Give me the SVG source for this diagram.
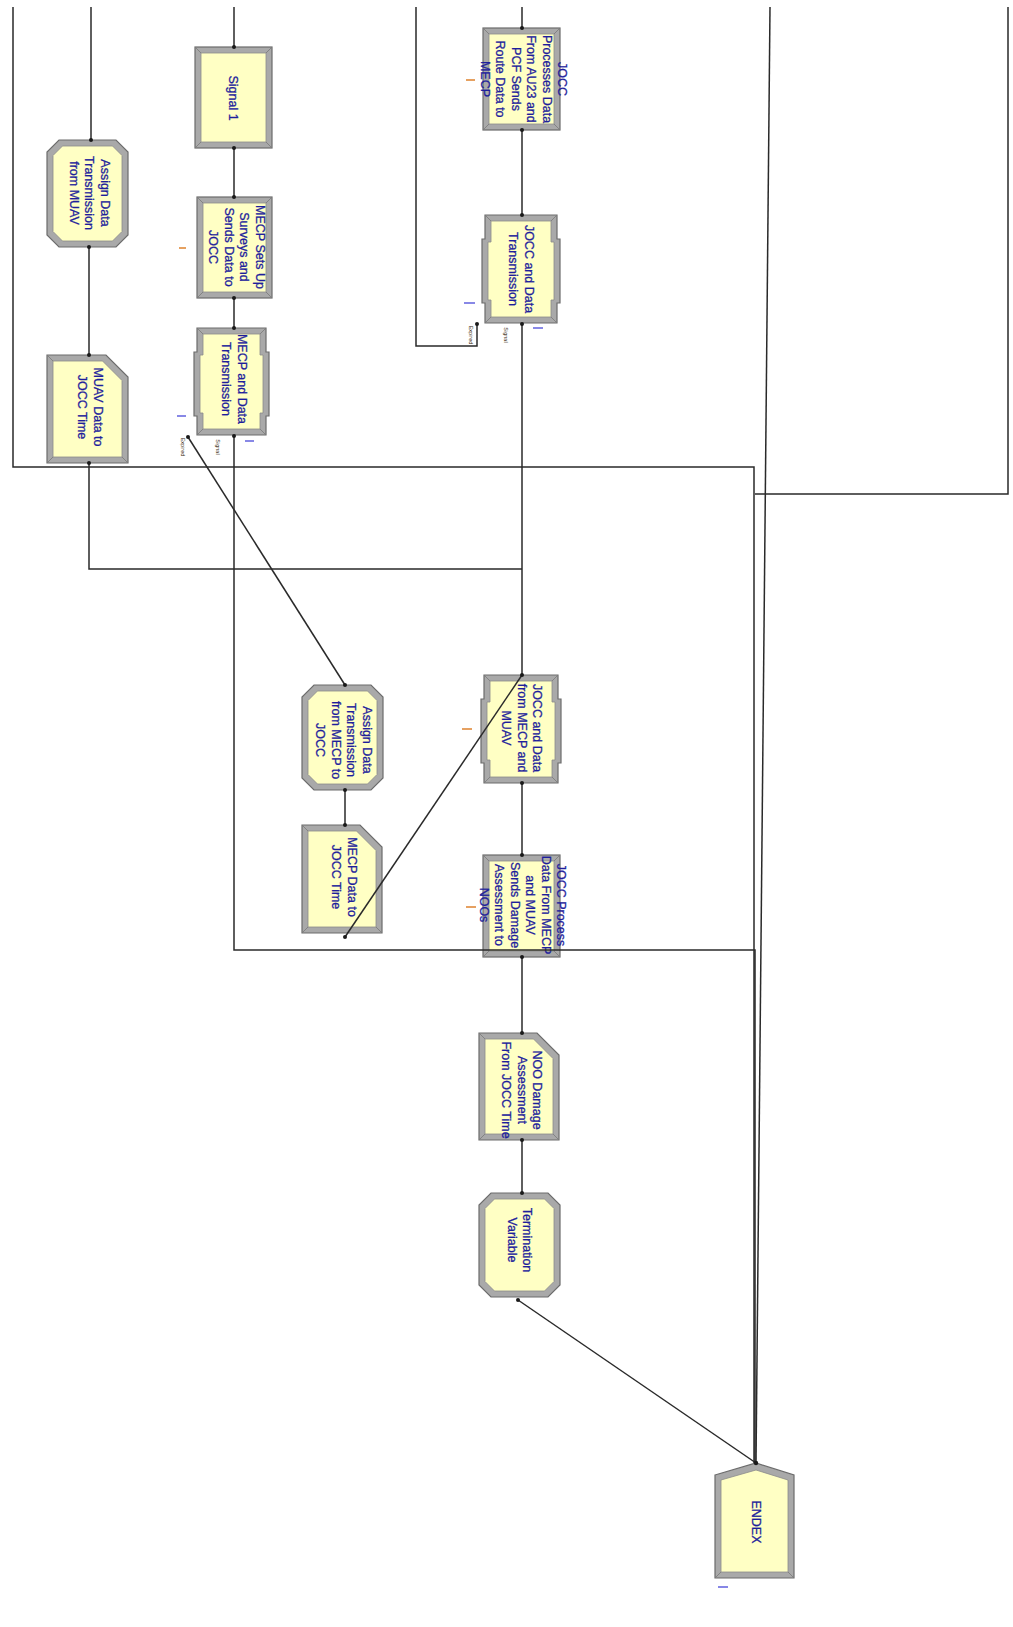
<svg xmlns="http://www.w3.org/2000/svg" width="1013" height="1627" viewBox="0 0 1013 1627">
  <style>
    .rim { fill: #a9a9a9; stroke: #6c6c6c; stroke-width: 1.2; }
    .face { fill: #ffffc4; stroke: #8c8c8c; stroke-width: 0.8; }
    .bev { stroke: #7a7a7a; stroke-width: 0.8; fill: none; }
    .lbl { font-family: "Liberation Sans", Arial, sans-serif; font-size: 12.5px; fill: #1e1e9c; stroke: #1e1e9c; stroke-width: 0.3; text-anchor: middle; }
    .port { font-family: "Liberation Sans", Arial, sans-serif; font-size: 5.5px; fill: #3a2a10; text-anchor: middle; }
    .wire { fill: none; stroke: #2a2a2a; stroke-width: 1.5; }
    .dot { fill: #1a1a1a; }
    .mk-o { stroke: #e08a3a; stroke-width: 1.6; }
    .mk-b { stroke: #6a6ae0; stroke-width: 1.6; }
  </style>

  <rect width="1013" height="1627" fill="#ffffff"/>

  <!-- Assign: Assign Data Transmission from MUAV -->
  <g id="assign-muav">
    <polygon class="rim" points="59,140 116,140 128,152 128,235 116,247 59,247 47,235 47,152"/>
    <polygon class="face" points="62.5,146 112.5,146 122,155.5 122,231.5 112.5,241 62.5,241 53,231.5 53,155.5"/>
    <text class="lbl" transform="translate(89.5 193) rotate(90)"><tspan x="0" y="-11">Assign Data</tspan><tspan x="0" y="4.5">Transmission</tspan><tspan x="0" y="20">from MUAV</tspan></text>
  </g>

  <!-- Record: MUAV Data to JOCC Time -->
  <g id="record-muav">
    <polygon class="rim" points="47,355 106,355 128,377 128,463 47,463"/>
    <polygon class="face" points="53,361 102.5,361 122,380.5 122,457 53,457"/>
    <path class="bev" d="M47,355 L53,361 M128,463 L122,457 M47,463 L53,457"/>
    <text class="lbl" transform="translate(90.5 407) rotate(90)"><tspan x="0" y="-3.25">MUAV Data to</tspan><tspan x="0" y="12.25">JOCC Time</tspan></text>
  </g>

  <!-- Signal: Signal 1 -->
  <g id="signal-1">
    <rect class="rim" x="195" y="47" width="77" height="101"/>
    <rect class="face" x="201" y="53" width="65" height="89"/>
    <path class="bev" d="M195,47 L201,53 M272,47 L266,53 M272,148 L266,142 M195,148 L201,142"/>
    <text class="lbl" transform="translate(233 98) rotate(90)"><tspan x="0" y="4.5">Signal 1</tspan></text>
  </g>

  <!-- Process: MECP Sets Up Surveys and Sends Data to JOCC -->
  <g id="mecp-surveys">
    <rect class="rim" x="197" y="197" width="75" height="101"/>
    <rect class="face" x="203" y="203" width="63" height="89"/>
    <path class="bev" d="M197,197 L203,203 M272,197 L266,203 M272,298 L266,292 M197,298 L203,292"/>
    <text class="lbl" transform="translate(237 247) rotate(90)"><tspan x="0" y="-18.75">MECP Sets Up</tspan><tspan x="0" y="-3.25">Surveys and</tspan><tspan x="0" y="12.25">Sends Data to</tspan><tspan x="0" y="27.75">JOCC</tspan></text>
    <line class="mk-o" x1="179" y1="248" x2="186" y2="248"/>
  </g>

  <!-- Hold: MECP and Data Transmission -->
  <g id="mecp-transmission">
    <path class="rim" d="M197,328 H266 V352 H269 V416 H266 V435 H197 V416 H194 V352 H197 Z"/>
    <path class="face" d="M203,334 H260 V355 H263 V413 H260 V429 H203 V413 H200 V355 H203 Z"/>
    <path class="bev" d="M197,328 L203,334 M266,328 L260,334 M266,435 L260,429 M197,435 L203,429"/>
    <text class="lbl" transform="translate(234.5 379) rotate(90)"><tspan x="0" y="-3.25">MECP and Data</tspan><tspan x="0" y="12.25">Transmission</tspan></text>
    <line class="mk-b" x1="177" y1="416" x2="186" y2="416"/>
    <line class="mk-b" x1="245" y1="441" x2="254" y2="441"/>
    <text class="port" transform="translate(183 447) rotate(90)"><tspan x="0" y="2">Expired</tspan></text>
    <text class="port" transform="translate(218 447) rotate(90)"><tspan x="0" y="2">Signal</tspan></text>
  </g>

  <!-- Process: JOCC Processes Data From AU23 and PCF Sends Route Data to MECP -->
  <g id="jocc-route">
    <rect class="rim" x="483" y="28" width="77" height="102"/>
    <rect class="face" x="489" y="34" width="65" height="90"/>
    <path class="bev" d="M483,28 L489,34 M560,28 L554,34 M560,130 L554,124 M483,130 L489,124"/>
    <text class="lbl" transform="translate(524 79) rotate(90)"><tspan x="0" y="-34.25">JOCC</tspan><tspan x="0" y="-18.75">Processes Data</tspan><tspan x="0" y="-3.25">From AU23 and</tspan><tspan x="0" y="12.25">PCF Sends</tspan><tspan x="0" y="27.75">Route Data to</tspan><tspan x="0" y="43.25">MECP</tspan></text>
    <line class="mk-o" x1="466" y1="80" x2="475" y2="80"/>
  </g>

  <!-- Hold: JOCC and Data Transmission -->
  <g id="jocc-transmission">
    <path class="rim" d="M485,215 H557 V239 H560 V303 H557 V323 H485 V303 H482 V239 H485 Z"/>
    <path class="face" d="M491,221 H551 V242 H554 V300 H551 V317 H491 V300 H488 V242 H491 Z"/>
    <path class="bev" d="M485,215 L491,221 M557,215 L551,221 M557,323 L551,317 M485,323 L491,317"/>
    <text class="lbl" transform="translate(521.5 269) rotate(90)"><tspan x="0" y="-3.25">JOCC and Data</tspan><tspan x="0" y="12.25">Transmission</tspan></text>
    <line class="mk-b" x1="464" y1="303" x2="475" y2="303"/>
    <line class="mk-b" x1="533" y1="328" x2="543" y2="328"/>
    <text class="port" transform="translate(471 335) rotate(90)"><tspan x="0" y="2">Expired</tspan></text>
    <text class="port" transform="translate(506 335) rotate(90)"><tspan x="0" y="2">Signal</tspan></text>
  </g>

  <!-- Hold: JOCC and Data from MECP and MUAV -->
  <g id="jocc-mecp-muav">
    <path class="rim" d="M484,675 H558 V699 H561 V763 H558 V783 H484 V763 H481 V699 H484 Z"/>
    <path class="face" d="M490,681 H552 V702 H555 V760 H552 V777 H490 V760 H487 V702 H490 Z"/>
    <path class="bev" d="M484,675 L490,681 M558,675 L552,681 M558,783 L552,777 M484,783 L490,777"/>
    <text class="lbl" transform="translate(522 728) rotate(90)"><tspan x="0" y="-11">JOCC and Data</tspan><tspan x="0" y="4.5">from MECP and</tspan><tspan x="0" y="20">MUAV</tspan></text>
    <line class="mk-o" x1="462" y1="729" x2="472" y2="729"/>
  </g>

  <!-- Assign: Assign Data Transmission from MECP to JOCC -->
  <g id="assign-mecp">
    <polygon class="rim" points="314,685 371,685 383,697 383,778 371,790 314,790 302,778 302,697"/>
    <polygon class="face" points="317.5,691 367.5,691 377,700.5 377,774.5 367.5,784 317.5,784 308,774.5 308,700.5"/>
    <text class="lbl" transform="translate(344 740) rotate(90)"><tspan x="0" y="-18.75">Assign Data</tspan><tspan x="0" y="-3.25">Transmission</tspan><tspan x="0" y="12.25">from MECP to</tspan><tspan x="0" y="27.75">JOCC</tspan></text>
  </g>

  <!-- Record: MECP Data to JOCC Time -->
  <g id="record-mecp">
    <polygon class="rim" points="302,825 360,825 382,847 382,933 302,933"/>
    <polygon class="face" points="308,831 356.5,831 376,850.5 376,927 308,927"/>
    <path class="bev" d="M302,825 L308,831 M382,933 L376,927 M302,933 L308,927"/>
    <text class="lbl" transform="translate(344.5 877) rotate(90)"><tspan x="0" y="-3.25">MECP Data to</tspan><tspan x="0" y="12.25">JOCC Time</tspan></text>
  </g>

  <!-- Process: JOCC Process Data From MECP and MUAV Sends Damage Assessment to NOOs -->
  <g id="jocc-damage">
    <rect class="rim" x="483" y="855" width="77" height="102"/>
    <rect class="face" x="489" y="861" width="65" height="90"/>
    <path class="bev" d="M483,855 L489,861 M560,855 L554,861 M560,957 L554,951 M483,957 L489,951"/>
    <text class="lbl" transform="translate(523 905) rotate(90)"><tspan x="0" y="-34.25">JOCC Process</tspan><tspan x="0" y="-18.75">Data From MECP</tspan><tspan x="0" y="-3.25">and MUAV</tspan><tspan x="0" y="12.25">Sends Damage</tspan><tspan x="0" y="27.75">Assessment to</tspan><tspan x="0" y="43.25">NOOs</tspan></text>
    <line class="mk-o" x1="466" y1="907" x2="476" y2="907"/>
  </g>

  <!-- Record: NOO Damage Assessment From JOCC Time -->
  <g id="record-noo">
    <polygon class="rim" points="479,1033 537,1033 559,1055 559,1140 479,1140"/>
    <polygon class="face" points="485,1039 533.5,1039 553,1058.5 553,1134 485,1134"/>
    <path class="bev" d="M479,1033 L485,1039 M559,1140 L553,1134 M479,1140 L485,1134"/>
    <text class="lbl" transform="translate(522 1090) rotate(90)"><tspan x="0" y="-11">NOO Damage</tspan><tspan x="0" y="4.5">Assessment</tspan><tspan x="0" y="20">From JOCC Time</tspan></text>
  </g>

  <!-- Assign: Termination Variable -->
  <g id="termination-variable">
    <polygon class="rim" points="491,1193 548,1193 560,1205 560,1285 548,1297 491,1297 479,1285 479,1205"/>
    <polygon class="face" points="494.5,1199 544.5,1199 554,1208.5 554,1281.5 544.5,1291 494.5,1291 485,1281.5 485,1208.5"/>
    <text class="lbl" transform="translate(520 1240) rotate(90)"><tspan x="0" y="-3.25">Termination</tspan><tspan x="0" y="12.25">Variable</tspan></text>
  </g>

  <!-- Dispose: ENDEX -->
  <g id="endex">
    <polygon class="rim" points="715,1475 756,1463 794,1475 794,1578 715,1578"/>
    <polygon class="face" points="721,1480 756,1470 788,1480 788,1572 721,1572"/>
    <path class="bev" d="M715,1578 L721,1572 M794,1578 L788,1572"/>
    <text class="lbl" transform="translate(756 1522) rotate(90)"><tspan x="0" y="4.5">ENDEX</tspan></text>
    <line class="mk-b" x1="718" y1="1587" x2="728" y2="1587"/>
  </g>

  <!-- connectors, drawn over the modules they cross -->
  <g id="connectors">
    <polyline class="wire" points="13,7 13,467 754,467 754,1463"/>
    <polyline class="wire" points="91,7 91,140"/>
    <polyline class="wire" points="89,247 89,355"/>
    <polyline class="wire" points="89,463 89,569 522,569"/>
    <polyline class="wire" points="234,7 234,47"/>
    <polyline class="wire" points="234,148 234,197"/>
    <polyline class="wire" points="234,298 234,328"/>
    <polyline class="wire" points="234,435 234,950 755,950 755,1463"/>
    <line class="wire" x1="188" y1="437" x2="345" y2="685"/>
    <polyline class="wire" points="345,790 345,825"/>
    <line class="wire" x1="345" y1="937" x2="522" y2="675"/>
    <polyline class="wire" points="416,7 416,346 477,346 477,323"/>
    <polyline class="wire" points="522,7 522,28"/>
    <polyline class="wire" points="522,130 522,215"/>
    <polyline class="wire" points="522,323 522,675"/>
    <polyline class="wire" points="522,783 522,855"/>
    <polyline class="wire" points="522,957 522,1033"/>
    <polyline class="wire" points="522,1140 522,1193"/>
    <line class="wire" x1="770" y1="7" x2="756" y2="1463"/>
    <polyline class="wire" points="1008,7 1008,494 755,494"/>
    <line class="wire" x1="518" y1="1300" x2="756" y2="1463"/>

    <!-- entry / exit points -->
    <circle class="dot" cx="91" cy="140" r="2"/>
    <circle class="dot" cx="89" cy="247" r="2"/>
    <circle class="dot" cx="89" cy="355" r="2"/>
    <circle class="dot" cx="89" cy="463" r="2"/>
    <circle class="dot" cx="234" cy="47" r="2"/>
    <circle class="dot" cx="234" cy="148" r="2"/>
    <circle class="dot" cx="234" cy="197" r="2"/>
    <circle class="dot" cx="234" cy="298" r="2"/>
    <circle class="dot" cx="234" cy="328" r="2"/>
    <circle class="dot" cx="234" cy="436" r="2"/>
    <circle class="dot" cx="188" cy="437" r="2"/>
    <circle class="dot" cx="345" cy="685" r="2"/>
    <circle class="dot" cx="345" cy="790" r="2"/>
    <circle class="dot" cx="345" cy="825" r="2"/>
    <circle class="dot" cx="345" cy="937" r="2"/>
    <circle class="dot" cx="522" cy="28" r="2"/>
    <circle class="dot" cx="522" cy="130" r="2"/>
    <circle class="dot" cx="522" cy="215" r="2"/>
    <circle class="dot" cx="522" cy="324" r="2"/>
    <circle class="dot" cx="477" cy="324" r="2"/>
    <circle class="dot" cx="522" cy="675" r="2"/>
    <circle class="dot" cx="522" cy="783" r="2"/>
    <circle class="dot" cx="522" cy="855" r="2"/>
    <circle class="dot" cx="522" cy="957" r="2"/>
    <circle class="dot" cx="522" cy="1033" r="2"/>
    <circle class="dot" cx="522" cy="1140" r="2"/>
    <circle class="dot" cx="522" cy="1193" r="2"/>
    <circle class="dot" cx="518" cy="1300" r="2"/>
    <circle class="dot" cx="756" cy="1463" r="2.2"/>
  </g>
</svg>
